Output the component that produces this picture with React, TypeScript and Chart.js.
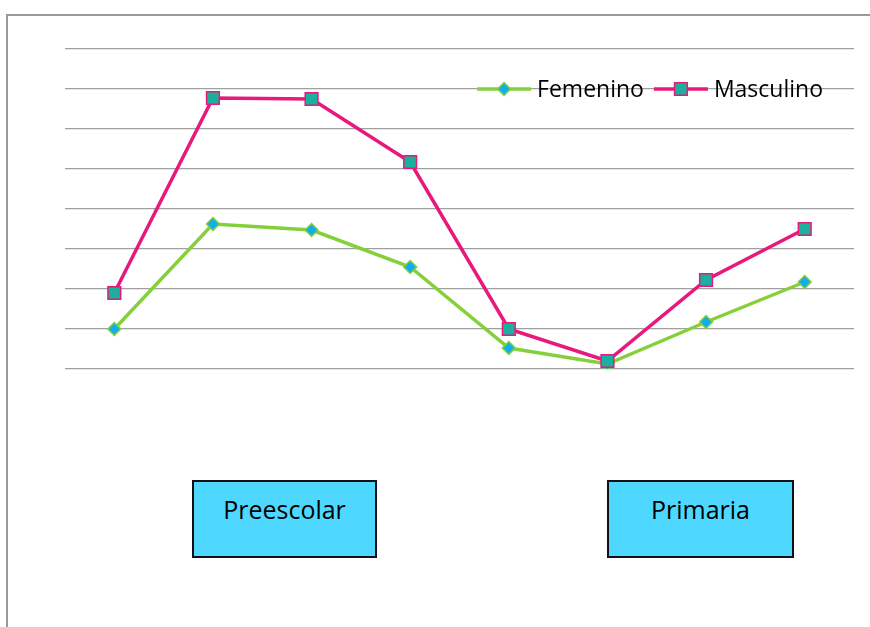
import React, { useEffect, useRef } from "react";
import { Chart, registerables } from "chart.js";

Chart.register(...registerables);

const categories = ["1", "2", "3", "4", "5", "6", "7", "8"];
const femenino = [1.0, 3.625, 3.475, 2.55, 0.525, 0.125, 1.175, 2.175];
const masculino = [1.9, 6.775, 6.75, 5.175, 1.0, 0.2, 2.225, 3.5];
const seriesNames = ["Femenino", "Masculino"];
const levelLabels = ["Preescolar", "Primaria"];

const FONT = "'Open Sans', 'Liberation Sans', sans-serif";

const legendPlugin = {
  id: "insideLegend",
  afterDatasetsDraw(chart: any) {
    const ctx = chart.ctx;
    const area = chart.chartArea;
    const y = chart.scales.y.getPixelForValue(7);
    ctx.save();
    ctx.font = `23px ${FONT}`;
    ctx.textBaseline = "middle";
    const lineLen = 54;
    const gapText = 6;
    const gapItem = 10;
    const items = chart.data.datasets.map((ds: any) => ({
      ds,
      w: lineLen + gapText + ctx.measureText(ds.label).width,
    }));
    const total = items.reduce((s: number, it: any) => s + it.w, 0) + gapItem * (items.length - 1);
    let x = area.right - 31 - total;
    items.forEach((it: any) => {
      const ds = it.ds;
      ctx.strokeStyle = ds.borderColor;
      ctx.lineWidth = ds.borderWidth;
      ctx.beginPath();
      ctx.moveTo(x, y);
      ctx.lineTo(x + lineLen, y);
      ctx.stroke();
      const cx = x + lineLen / 2;
      ctx.fillStyle = ds.pointBackgroundColor;
      ctx.strokeStyle = ds.pointBorderColor;
      ctx.lineWidth = ds.pointBorderWidth;
      ctx.beginPath();
      if (ds.pointStyle === "rectRot") {
        const r = ds.pointRadius;
        ctx.moveTo(cx, y - r);
        ctx.lineTo(cx + r, y);
        ctx.lineTo(cx, y + r);
        ctx.lineTo(cx - r, y);
        ctx.closePath();
      } else {
        const s = Math.SQRT1_2 * ds.pointRadius;
        ctx.rect(cx - s, y - s, 2 * s, 2 * s);
      }
      ctx.fill();
      ctx.stroke();
      ctx.fillStyle = "#000";
      ctx.textAlign = "left";
      ctx.fillText(ds.label, x + lineLen + gapText, y + 1);
      x += it.w + gapItem;
    });
    ctx.restore();
  },
};

export default function App() {
  const ref = useRef<HTMLCanvasElement | null>(null);
  useEffect(() => {
    if (!ref.current) return;
    const chart = new Chart(ref.current, {
      type: "line",
      data: {
        labels: categories,
        datasets: [
          {
            label: seriesNames[0],
            data: femenino,
            borderColor: "#85D03A",
            borderWidth: 3.5,
            pointStyle: "rectRot",
            pointRadius: 6.5,
            pointBackgroundColor: "#12AEEB",
            pointBorderColor: "#85D03A",
            pointBorderWidth: 1.5,
            tension: 0,
            order: 1,
          },
          {
            label: seriesNames[1],
            data: masculino,
            borderColor: "#E8197C",
            borderWidth: 3.5,
            pointStyle: "rect",
            pointRadius: 9,
            pointBackgroundColor: "#1BB09E",
            pointBorderColor: "#E8197C",
            pointBorderWidth: 1.5,
            tension: 0,
            order: 0,
          },
        ] as any,
      },
      options: {
        animation: false,
        responsive: false,
        devicePixelRatio: 1,
        layout: { padding: { left: 65, right: 16, top: 49, bottom: 258 } },
        plugins: { legend: { display: false }, tooltip: { enabled: false } },
        scales: {
          x: { display: false, offset: true, grid: { display: false } },
          y: {
            min: 0,
            max: 8,
            ticks: { display: false, stepSize: 1 },
            border: { display: false },
            grid: { color: "#a0a0a0", lineWidth: 1.3, drawTicks: false },
          },
        },
      },
      plugins: [legendPlugin],
    });
    return () => chart.destroy();
  }, []);

  const boxStyle = (left: number, width: number): React.CSSProperties => ({
    position: "absolute",
    left,
    top: 480,
    width,
    height: 78,
    boxSizing: "border-box",
    background: "#4FD8FF",
    border: "2px solid #111",
    fontFamily: FONT,
    fontSize: 25,
    color: "#000",
    textAlign: "center",
    paddingTop: 8,
    lineHeight: "38px",
  });

  return (
    <div style={{ position: "absolute", left: 0, top: 0, width: 870, height: 627, overflow: "hidden", background: "#fff" }}>
      <div
        style={{
          position: "absolute",
          left: 6,
          top: 14,
          width: 1000,
          height: 1000,
          borderTop: "2px solid #9a9a9a",
          borderLeft: "2px solid #9a9a9a",
        }}
      />
      <canvas ref={ref} width={870} height={627} style={{ position: "absolute", left: 0, top: 0 }} />
      <div style={boxStyle(192, 185)}>{levelLabels[0]}</div>
      <div style={boxStyle(607, 187)}>{levelLabels[1]}</div>
    </div>
  );
}
